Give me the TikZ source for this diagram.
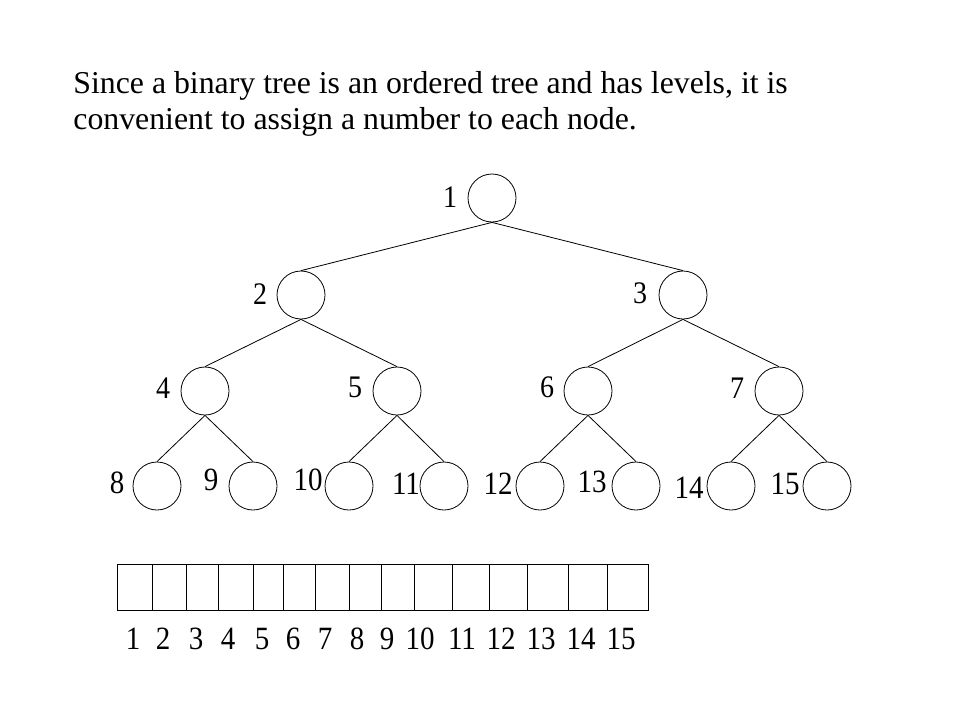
\documentclass[tikz,border=0pt]{standalone}
\usepackage{graphicx}
\usepackage{fontspec}
\setmainfont{Liberation Serif}
\newcommand{\tallnum}[1]{\scalebox{1}[1.12]{#1}}

\begin{document}
\begin{tikzpicture}[x=1pt,y=-1pt,line width=0.8pt,
    vertex/.style={draw,circle,minimum size=48pt,inner sep=0pt},
    toplabel/.style={font=\fontsize{28}{28}\selectfont,inner sep=0pt},
    leaflabel/.style={font=\fontsize{29}{29}\selectfont,inner sep=0pt},
    cellbox/.style={draw,minimum height=46pt,inner sep=0pt},
    heading/.style={font=\fontsize{31.8}{36}\selectfont,inner sep=0pt,anchor=base west}]
  \useasboundingbox (0,0) rectangle (960,720);
  % heading
  \node[heading] (line1) at (73,93) {Since a binary tree is an ordered tree and has levels, it is};
  \node[heading] (line2) at (73,129) {convenient to assign a number to each node.};
  % tree
  \foreach \n/\x/\y in {1/492/198, 2/301/295, 3/683/295,
      4/205/391, 5/397/391, 6/588/391, 7/779/391,
      8/157/486, 9/253/486, 10/349/486, 11/444/486,
      12/540/486, 13/636/486, 14/731/486, 15/827/486}
    \node[vertex] (n\n) at (\x,\y) {};
  \foreach \p/\c in {1/2, 1/3, 2/4, 2/5, 3/6, 3/7, 4/8, 4/9,
      5/10, 5/11, 6/12, 6/13, 7/14, 7/15}
    \draw (n\p.south) -- (n\c.north);
  \foreach \n/\dx/\dy in {1/-42/-1, 2/-41/-1, 3/-43/-2,
      4/-42/-3, 5/-42/-4, 6/-41/-4, 7/-42/-3}
    \node[toplabel] (l\n) at ([shift={(\dx,\dy)}]n\n.center) {\tallnum{\n}};
  \foreach \n/\dx/\dy in {8/-40/-3, 9/-42/-6, 10/-41/-6, 11/-38/-2,
      12/-42/-2, 13/-44/-4, 14/-42/2, 15/-42/-2}
    \node[leaflabel] (l\n) at ([shift={(\dx,\dy)}]n\n.center) {\tallnum{\n}};
  % array
  \foreach \i/\l/\r/\t in {1/117/152/133, 2/152/186/163, 3/186/218/196,
      4/218/253/228, 5/253/283/262, 6/283/315/293, 7/315/349/325,
      8/349/381/357, 9/381/414/387, 10/414/452/420, 11/452/489/462,
      12/489/527/501, 13/527/568/541, 14/568/607/581, 15/607/648/621} {
    \node[cellbox,minimum width={(\r-\l)*1pt}] (c\i) at ({(\l+\r)/2},587) {};
    \node[leaflabel] (a\i) at (\t,639) {\tallnum{\i}};
  }
\end{tikzpicture}
\end{document}
